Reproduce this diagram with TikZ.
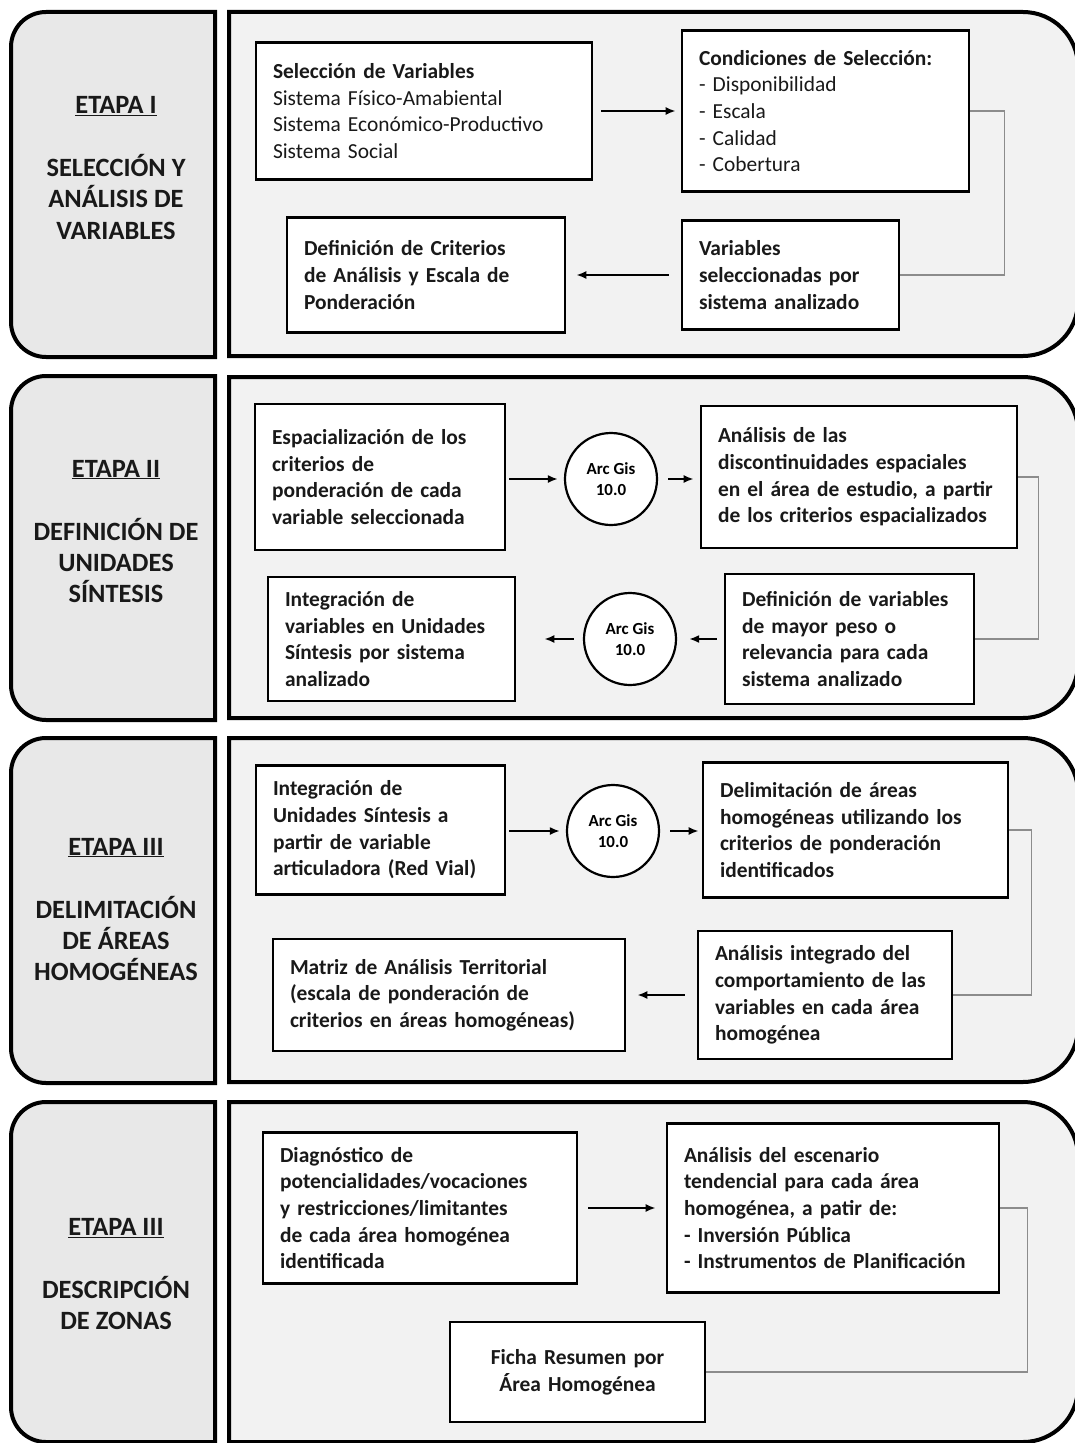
\documentclass[tikz,border=0pt]{standalone}
\usepackage{fontspec}
\setmainfont{Carlito}
\usetikzlibrary{arrows.meta,positioning,shapes.geometric}
\tikzset{
>={Latex[length=10bp,width=8bp]},
  paso/.style={
    rectangle,
    draw=black, line width=2.6bp,
    fill=white,
    inner xsep=17bp, inner ysep=3bp,
    align=left,
    text=black!90,
    font=\fontsize{21.5}{26.8}\selectfont\bfseries},
  arcgis/.style={
    circle,
    draw=black, line width=2.2bp,
    fill=white,
    minimum size=92bp, inner sep=0pt,
    align=center,
    font=\fontsize{17}{21}\selectfont\bfseries},
  etapa/.style={
    align=center,
    text=black!90,
    font=\fontsize{26.5}{31.5}\selectfont\bfseries},
  flecha/.style={->, line width=2bp, shorten <=8bp, shorten >=6bp},
  enlace/.style={draw=black!45, line width=1.6bp},
}
\begin{document}
\begin{tikzpicture}[
    x=1bp, y=-1bp,
    lado/.style={draw=black, line width=4bp, fill=black!9},
    cuerpo/.style={draw=black, line width=4bp, fill=black!5}
    ]
    \useasboundingbox (0,0) rectangle (1074,1443);

    %first stage
    \draw[lado] (215,12) -- (46,12) arc(270:180:35) -- (11,322) arc(180:90:35) -- (215,357) -- cycle;
    \draw[cuerpo] (229,12) -- (1023,12) arc(270:360:55) -- (1078,301) arc(0:90:55) -- (229,356) -- cycle;
    \node[etapa] (e1) at (116,168) {\underline{ETAPA I}\\[31.5bp]SELECCIÓN Y\\ANÁLISIS DE\\VARIABLES};

    \node[paso, font=\fontsize{21.5}{26.8}\selectfont, text width=302bp, minimum height=137bp] (sel) at (424,111)
      {\textbf{Selección de Variables}\\Sistema Físico-Amabiental\\Sistema Económico-Productivo\\Sistema Social};
    \node[paso, font=\fontsize{21.5}{26.8}\selectfont, text width=253bp, minimum height=161bp] (cond) at (825.5,111)
      {\textbf{Condiciones de Selección:}\\- Disponibilidad\\- Escala\\- Calidad\\- Cobertura};
    \node[paso, text width=244bp, minimum height=115bp] (defcrit) at (426,275)
      {Definición de Criterios\\de Análisis y Escala de\\Ponderación};
    \node[paso, text width=183bp, minimum height=109bp] (varsel) at (790.5,275)
      {Variables\\seleccionadas por\\sistema analizado};

    \draw[flecha, shorten >=5bp] (sel.east) -- (cond.west);
    \draw[flecha, shorten <=12bp, shorten >=10bp] (varsel.west) -- (defcrit.east);
    \draw[enlace] (cond.east) -- ++(34,0) |- (varsel.east);

    %second stage
    \draw[lado] (215,376) -- (46,376) arc(270:180:35) -- (11,685) arc(180:90:35) -- (215,720) -- cycle;
    \draw[cuerpo] (229,377) -- (1023,377) arc(270:360:55) -- (1078,663) arc(0:90:55) -- (229,718) -- cycle;
    \node[etapa] (e2) at (116,531.5) {\underline{ETAPA II}\\[31.5bp]DEFINICIÓN DE\\UNIDADES\\SÍNTESIS};

    \node[paso, text width=216bp, minimum height=146bp] (esp) at (380,477)
      {Espacialización de los\\criterios de\\ponderación de cada\\variable seleccionada};
    \node[arcgis] (arc1) at (611,479) {Arc Gis\\10.0};
    \node[paso, text width=282bp, minimum height=142bp] (anal) at (859,477)
      {Análisis de las\\discontinuidades espaciales\\en el área de estudio, a partir\\de los criterios espacializados};
    \node[paso, text width=215bp, minimum height=130bp] (defvar) at (849.5,639)
      {Definición de variables\\de mayor peso o\\relevancia para cada\\sistema analizado};
    \node[arcgis] (arc2) at (630,639) {Arc Gis\\10.0};
    \node[paso, text width=213bp, minimum height=124bp] (integ) at (391.5,639)
      {Integración de\\variables en Unidades\\Síntesis por sistema\\analizado};

    \draw[flecha, shorten <=3bp] (esp.east |- arc1) -- (arc1.west);
    \draw[flecha, shorten <=10bp] (arc1.east) -- (anal.west |- arc1);
    \draw[flecha, shorten <=7bp, shorten >=12bp] (defvar.west) -- (arc2.east);
    \draw[flecha, shorten <=9bp, shorten >=28bp] (arc2.west) -- (integ.east);
    \draw[enlace] (anal.east) -- ++(20,0) |- (defvar.east);

    %third stage
    \draw[lado] (215,738) -- (46,738) arc(270:180:35) -- (11,1048) arc(180:90:35) -- (215,1083) -- cycle;
    \draw[cuerpo] (229,738) -- (1023,738) arc(270:360:55) -- (1078,1027) arc(0:90:55) -- (229,1082) -- cycle;
    \node[etapa] (e3) at (116,909.5) {\underline{ETAPA III}\\[31.5bp]DELIMITACIÓN\\DE ÁREAS\\HOMOGÉNEAS};

    \node[paso, text width=215bp, minimum height=129bp] (intu) at (380.5,830)
      {Integración de\\Unidades Síntesis a\\partir de variable\\articuladora (Red Vial)};
    \node[arcgis] (arc3) at (613,831) {Arc Gis\\10.0};
    \node[paso, text width=271bp, minimum height=135bp] (delim) at (855.5,830)
      {Delimitación de áreas\\homogéneas utilizando los\\criterios de ponderación\\identificados};
    \node[paso, text width=220bp, minimum height=128bp] (analint) at (825,995)
      {Análisis integrado del\\comportamiento de las\\variables en cada área\\homogénea};
    \node[paso, text width=318bp, minimum height=112bp] (matriz) at (449,995)
      {Matriz de Análisis Territorial\\(escala de ponderación de\\criterios en áreas homogéneas)};

    \draw[flecha, shorten <=3bp] (intu.east |- arc3) -- (arc3.west);
    \draw[flecha, shorten <=10bp, shorten >=3bp] (arc3.east) -- (delim.west |- arc3);
    \draw[flecha, shorten <=12bp, shorten >=11bp] (analint.west) -- (matriz.east);
    \draw[enlace] (delim.east) -- ++(22,0) |- (analint.east);

    %fourth stage
    \draw[lado] (215,1102) -- (46,1102) arc(270:180:35) -- (11,1407) arc(180:90:35) -- (215,1442) -- cycle;
    \draw[cuerpo] (229,1102) -- (1023,1102) arc(270:360:55) -- (1078,1387) arc(0:90:55) -- (229,1442) -- cycle;
    \node[etapa] (e4) at (116,1274) {\underline{ETAPA III}\\[31.5bp]DESCRIPCIÓN\\DE ZONAS};

    \node[paso, text width=280bp, minimum height=151bp] (diag) at (420,1208)
      {Diagnóstico de\\potencialidades/vocaciones\\y restricciones/limitantes\\de cada área homogénea\\identificada};
    \node[paso, text width=298bp, minimum height=169bp] (esc) at (833,1208)
      {Análisis del escenario\\tendencial para cada área\\homogénea, a patir de:\\- Inversión Pública\\- Instrumentos de Planificación};
    \node[paso, align=center, text width=221bp, minimum height=100bp] (ficha) at (577.5,1372)
      {Ficha Resumen por\\Área Homogénea};

    \draw[flecha, shorten <=10bp, shorten >=10bp] (diag.east) -- (esc.west);
    \draw[enlace] (esc.east) -- ++(27,0) |- (ficha.east);

\end{tikzpicture}
\end{document}
